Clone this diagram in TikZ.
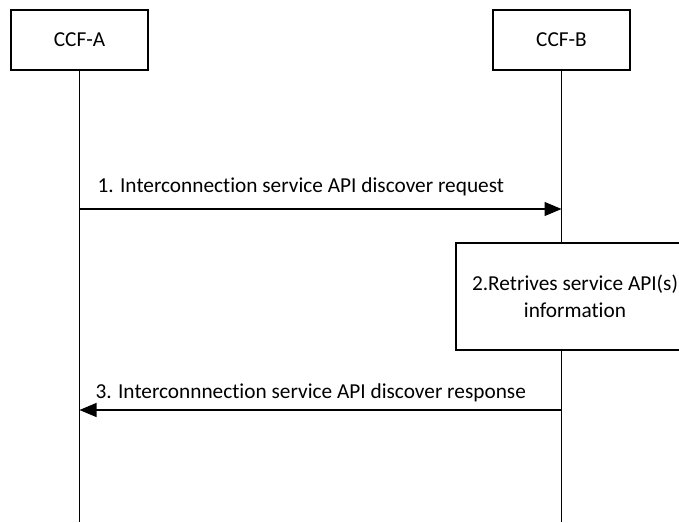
\documentclass[tikz,border=0pt]{standalone}
\usepackage{fontspec}
\setmainfont{Carlito}[Ligatures={NoCommon}]
\usetikzlibrary{arrows.meta}
\begin{document}
\begin{tikzpicture}[x=1pt, y=-1pt, line width=1.1pt,
    every node/.style={font=\fontsize{21.3}{27}\selectfont},
    entity/.style={draw, minimum width=137pt, minimum height=60pt, inner sep=0pt},
    msg/.style={-{Triangle[length=17pt, width=14pt]}}]
    \useasboundingbox (0,0) rectangle (679,522);
    \clip (0,0) rectangle (679,522);
    % entities and lifelines
    \node[entity] (ccfA) at (79.5,40) {CCF-A};
    \node[entity] (ccfB) at (561.5,40) {CCF-B};
    \coordinate (aEnd) at (79.5,522);
    \coordinate (bEnd) at (561.5,522);
    \draw (ccfA) -- (aEnd);
    \draw (ccfB) -- (bEnd);
    % step 1
    \coordinate (a1) at (79.5,209);
    \coordinate (b1) at (561.5,209);
    \draw[msg] (a1) -- (b1);
    \node[anchor=base west, inner sep=0pt] (req) at (97,192) {1. Interconnection service API discover request};
    % step 2
    \node[draw, fill=white, minimum width=238pt, minimum height=107pt, align=center] (retr) at (575,296.5)
        {2.Retrives service API(s)\\information};
    % step 3
    \coordinate (a3) at (79.5,410);
    \coordinate (b3) at (561.5,410);
    \draw[msg] (b3) -- (a3);
    \node[anchor=base west, inner sep=0pt] (resp) at (95,398) {3. Interconnnection service API discover response};
\end{tikzpicture}
\end{document}
